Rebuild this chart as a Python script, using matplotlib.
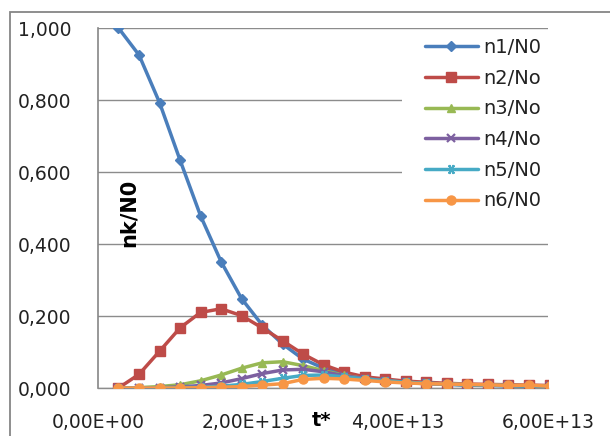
import matplotlib
matplotlib.use("Agg")
import matplotlib.pyplot as plt
from matplotlib.patches import Rectangle
from matplotlib.ticker import FuncFormatter

# ---- data (t in units of 1e13) ----
t_star = [0.273, 0.547, 0.820, 1.094, 1.368, 1.641, 1.915, 2.189, 2.462, 2.736,
          3.010, 3.283, 3.557, 3.830, 4.104, 4.378, 4.651, 4.925, 5.199, 5.472,
          5.746, 6.020]
n1 = [1.000, 0.925, 0.793, 0.633, 0.478, 0.351, 0.248, 0.175, 0.122, 0.080,
      0.055, 0.038, 0.027, 0.020, 0.015, 0.012, 0.010, 0.008, 0.007, 0.006,
      0.005, 0.005]
n2 = [0.000, 0.038, 0.102, 0.167, 0.210, 0.220, 0.201, 0.167, 0.131, 0.094,
      0.064, 0.044, 0.031, 0.025, 0.019, 0.016, 0.013, 0.011, 0.010, 0.009,
      0.008, 0.007]
n3 = [0.000, 0.001, 0.004, 0.009, 0.020, 0.036, 0.055, 0.070, 0.073, 0.062,
      0.048, 0.035, 0.026, 0.020, 0.016, 0.013, 0.011, 0.009, 0.008, 0.007,
      0.006, 0.005]
n4 = [0.000, 0.000, 0.001, 0.003, 0.007, 0.014, 0.026, 0.040, 0.050, 0.052,
      0.045, 0.034, 0.026, 0.020, 0.016, 0.013, 0.011, 0.009, 0.008, 0.007,
      0.006, 0.005]
n5 = [0.000, 0.000, 0.000, 0.001, 0.002, 0.005, 0.010, 0.018, 0.027, 0.035,
      0.036, 0.031, 0.025, 0.020, 0.016, 0.013, 0.011, 0.009, 0.008, 0.007,
      0.006, 0.005]
n6 = [0.000, 0.000, 0.000, 0.000, 0.001, 0.002, 0.004, 0.008, 0.012, 0.024,
      0.027, 0.025, 0.021, 0.017, 0.014, 0.012, 0.011, 0.010, 0.009, 0.007,
      0.008, 0.005]

labels = ["n1/N0", "n2/No", "n3/No", "n4/No", "n5/N0", "n6/N0"]
series = [n1, n2, n3, n4, n5, n6]
colors = ["#4A7EBB", "#BE4B48", "#98B954", "#7D60A0", "#46AAC5", "#F79646"]
markers = ["D", "s", "^", "x", (6, 2, 90), "o"]
msizes = [5, 6.5, 6, 6, 7, 6.5]

x_ticks = [0, 2, 4, 6]
y_ticks = [0.0, 0.2, 0.4, 0.6, 0.8, 1.0]

W, H = 610, 436
fig = plt.figure(figsize=(W / 100, H / 100), dpi=100)
fig.patch.set_facecolor("white")

# outer chart border (cropped on the right and bottom like the original)
fig.patches.append(Rectangle((10 / W, -0.2), 1.2, 0.2 + (1 - 12 / H),
                             transform=fig.transFigure, fill=False,
                             edgecolor="#868686", lw=1.3, zorder=0))

ax = fig.add_axes([98 / W, 48 / H, 450 / W, 360 / H])
ax.set_facecolor("none")

for ys, lab, c, m, ms in zip(series, labels, colors, markers, msizes):
    ax.plot(t_star, ys, color=c, lw=2.5, marker=m, ms=ms, mfc=c, mec=c,
            mew=1.6 if m in ("x",) or isinstance(m, tuple) else 1.0,
            label=lab, zorder=3, solid_capstyle="round", solid_joinstyle="round")

ax.set_xlim(0, 6)
ax.set_ylim(0, 1.0)
ax.set_xticks(x_ticks)
ax.set_yticks(y_ticks)
ax.xaxis.set_major_formatter(FuncFormatter(lambda v, p: f"{v:.2f}E+{(13 if v else 0):02d}".replace(".", ",")))
ax.yaxis.set_major_formatter(FuncFormatter(lambda v, p: f"{v:.3f}".replace(".", ",")))
ax.tick_params(axis="both", length=0, labelsize=13.5, colors="#000000")
ax.tick_params(axis="y", pad=19)
ax.tick_params(axis="x", pad=18)
for lbl in ax.get_xticklabels() + ax.get_yticklabels():
    lbl.set_color("#222222")

ax.grid(axis="y", color="#8c8c8c", lw=1.0, zorder=0)
ax.set_axisbelow(True)
for s in ["top", "right"]:
    ax.spines[s].set_visible(False)
ax.spines["left"].set_color("#868686")
ax.spines["bottom"].set_color("#8c8c8c")
ax.spines["left"].set_linewidth(1.2)
ax.spines["bottom"].set_linewidth(1.0)

# white legend background covering gridlines
ax.add_patch(Rectangle(((402 - 98) / 450, (388 - 220) / 360), 0.5, (220 - 34) / 360,
                       transform=ax.transAxes, facecolor="white", edgecolor="none",
                       zorder=1, clip_on=True))

leg = fig.legend(loc="upper left", bbox_to_anchor=(425 / W, 1 - 38 / H),
                 frameon=False, fontsize=14, handlelength=2.7, handletextpad=0.3,
                 labelspacing=0.6, borderpad=0, borderaxespad=0)
for txt in leg.get_texts():
    txt.set_color("#222222")

# axis titles placed inside the plot like the original
fig.text(129 / W, 1 - 213 / H, "nk/N0", rotation=90, fontsize=15, fontweight="bold",
         ha="center", va="center")
fig.text(321 / W, 1 - 420 / H, "t*", fontsize=14, fontweight="bold",
         ha="center", va="center")

fig.savefig("out.png", dpi=100)
